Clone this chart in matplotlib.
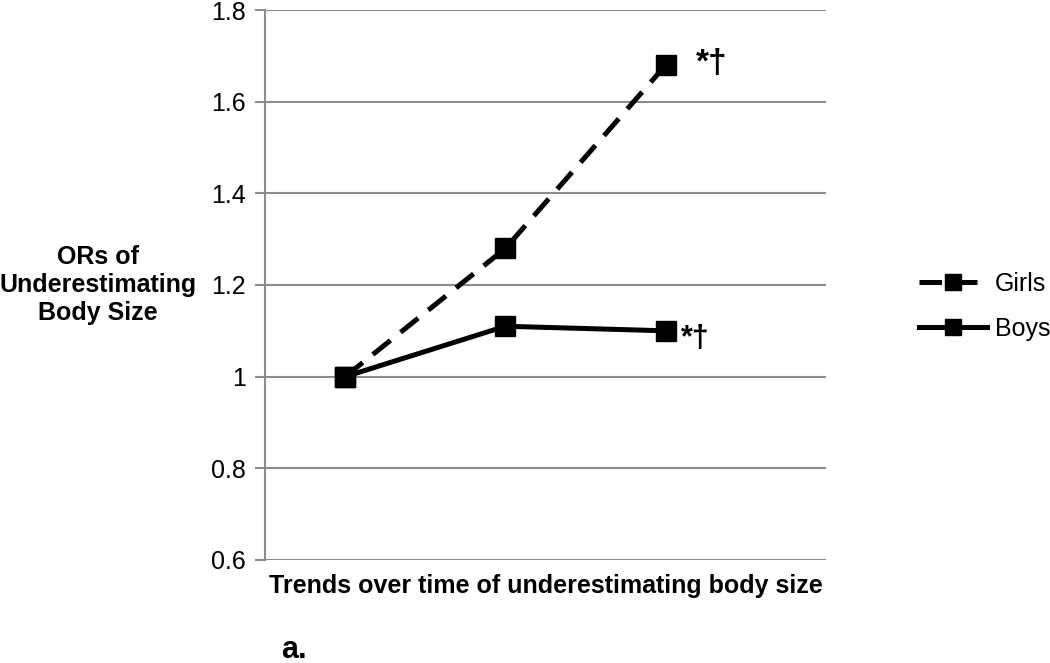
import matplotlib.pyplot as plt

plt.rcParams['font.family'] = ['Liberation Sans', 'DejaVu Sans']

# donnees
periods = [0, 1, 2]
girls = [1.0, 1.28, 1.68]
boys = [1.0, 1.11, 1.10]
yticks = [0.6, 0.8, 1.0, 1.2, 1.4, 1.6, 1.8]
ytick_labels = ['0.6', '0.8', '1', '1.2', '1.4', '1.6', '1.8']
sig_mark = '*\u2020'

fig = plt.figure(figsize=(10.5, 6.63), dpi=100)
ax = fig.add_axes([0.2524, 0.1554, 0.5343, 0.8295])

ax.plot(periods, girls, color='black', lw=3.6, ls=(0, (4.5, 2.6)),
        marker='s', ms=14, label='Girls', zorder=3)
ax.plot(periods, boys, color='black', lw=3.6, ls='-',
        marker='s', ms=14, label='Boys', zorder=3)

ax.set_xlim(-0.5, 3.0)
ax.set_ylim(0.6, 1.8)
ax.set_yticks(yticks)
ax.set_yticklabels(ytick_labels)
ax.set_xticks([])
ax.yaxis.grid(True, color='#8c8c8c', lw=1.5)
ax.set_axisbelow(True)
for s in ['top', 'right', 'bottom']:
    ax.spines[s].set_visible(False)
ax.spines['left'].set_color('#8c8c8c')
ax.spines['left'].set_linewidth(1.5)
ax.tick_params(axis='y', colors='#8c8c8c', length=7, width=1.5,
               labelsize=18, labelcolor='black', pad=7)

# marques de significativite
ax.annotate(sig_mark, (periods[2], girls[2]), xytext=(22, 1),
            textcoords='offset points', fontsize=24, fontweight='bold',
            va='center', ha='left')
ax.annotate(sig_mark, (periods[2], boys[2]), xytext=(11, -6),
            textcoords='offset points', fontsize=22, fontweight='bold',
            va='center', ha='left')

ax.set_xlabel('Trends over time of underestimating body size',
              fontsize=18, fontweight='bold')
ax.xaxis.set_label_coords(0.5, -0.025, transform=ax.transAxes)
ax.xaxis.label.set_va('top')

fig.text(0.093, 0.570, 'ORs of\nUnderestimating\nBody Size', ha='center',
         va='center', fontsize=18, fontweight='bold', linespacing=1.22)

fig.text(0.268, 0.008, 'a.', fontsize=22, fontweight='bold', ha='left',
         va='baseline')

ax.legend(loc='center left', bbox_to_anchor=(1.125, 0.461), frameon=False,
          fontsize=18, handlelength=2.75, labelspacing=0.85, handletextpad=0.3,
          markerscale=0.85)

fig.savefig('out.png', dpi=100)
